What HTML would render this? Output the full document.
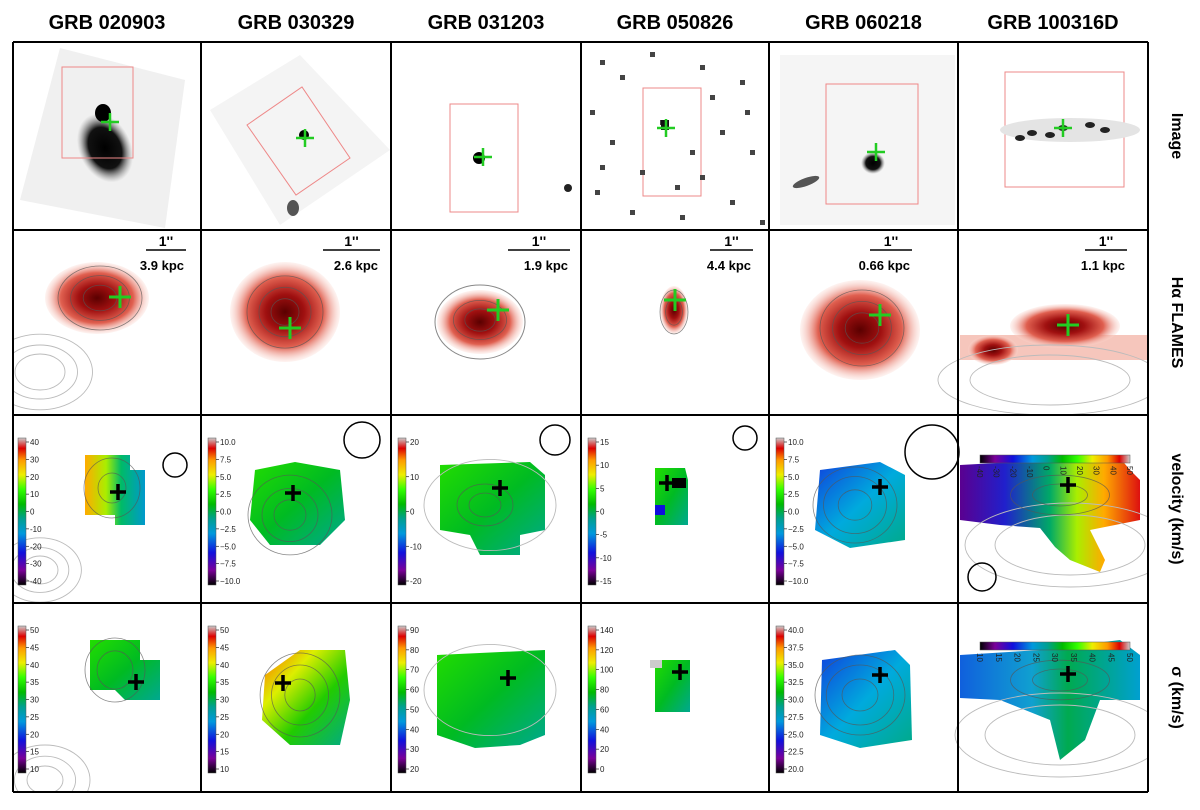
<!DOCTYPE html>
<html><head><meta charset="utf-8"><style>
body{margin:0;background:#fff}
svg{display:block;font-family:"Liberation Sans",sans-serif}
</style></head><body>
<svg id="fig" width="1200" height="810" viewBox="0 0 1200 810">
<defs>
<linearGradient id="cbv" x1="0" y1="1" x2="0" y2="0">
<stop offset="0" stop-color="#000"/><stop offset="0.1" stop-color="#7a0099"/><stop offset="0.22" stop-color="#1010dd"/><stop offset="0.35" stop-color="#0099dd"/><stop offset="0.45" stop-color="#00a090"/><stop offset="0.55" stop-color="#00bb00"/><stop offset="0.65" stop-color="#33ff00"/><stop offset="0.75" stop-color="#eeee00"/><stop offset="0.85" stop-color="#ff9900"/><stop offset="0.93" stop-color="#dd0000"/><stop offset="1" stop-color="#cccccc"/>
</linearGradient>
<linearGradient id="cbh" x1="0" y1="0" x2="1" y2="0">
<stop offset="0" stop-color="#000"/><stop offset="0.1" stop-color="#7a0099"/><stop offset="0.22" stop-color="#1010dd"/><stop offset="0.35" stop-color="#0099dd"/><stop offset="0.45" stop-color="#00a090"/><stop offset="0.55" stop-color="#00bb00"/><stop offset="0.65" stop-color="#33ff00"/><stop offset="0.75" stop-color="#eeee00"/><stop offset="0.85" stop-color="#ff9900"/><stop offset="0.93" stop-color="#dd0000"/><stop offset="1" stop-color="#cccccc"/>
</linearGradient>
<radialGradient id="red"><stop offset="0" stop-color="#5a0000"/><stop offset="0.35" stop-color="#a01010"/><stop offset="0.7" stop-color="#e06050"/><stop offset="1" stop-color="#fbd8d0" stop-opacity="0.3"/></radialGradient>
<radialGradient id="dark"><stop offset="0" stop-color="#000"/><stop offset="0.6" stop-color="#111"/><stop offset="1" stop-color="#888" stop-opacity="0"/></radialGradient>
<linearGradient id="velA" x1="0" y1="0" x2="1" y2="0"><stop offset="0" stop-color="#ffaa00"/><stop offset="0.35" stop-color="#aaee00"/><stop offset="0.6" stop-color="#00bb66"/><stop offset="1" stop-color="#0099cc"/></linearGradient>
<linearGradient id="velF" x1="0" y1="0" x2="1" y2="0"><stop offset="0" stop-color="#5a0090"/><stop offset="0.25" stop-color="#2020cc"/><stop offset="0.5" stop-color="#00aa66"/><stop offset="0.65" stop-color="#aaee00"/><stop offset="0.8" stop-color="#ffaa00"/><stop offset="1" stop-color="#dd1010"/></linearGradient>
<linearGradient id="grn" x1="0" y1="0" x2="1" y2="1"><stop offset="0" stop-color="#22dd00"/><stop offset="0.5" stop-color="#00bb22"/><stop offset="1" stop-color="#00a890"/></linearGradient>
<linearGradient id="grnY" x1="0" y1="0" x2="1" y2="1"><stop offset="0" stop-color="#ff6600"/><stop offset="0.3" stop-color="#ddee00"/><stop offset="0.6" stop-color="#22cc00"/><stop offset="1" stop-color="#00aa88"/></linearGradient>
<linearGradient id="blu" x1="0" y1="0" x2="1" y2="1"><stop offset="0" stop-color="#1040dd"/><stop offset="0.5" stop-color="#00aadd"/><stop offset="1" stop-color="#00aa88"/></linearGradient>
<linearGradient id="sigF" x1="0" y1="0" x2="1" y2="0"><stop offset="0" stop-color="#1060dd"/><stop offset="0.4" stop-color="#10a0d0"/><stop offset="0.6" stop-color="#00aa50"/><stop offset="1" stop-color="#00a0d0"/></linearGradient>
</defs>
<g id="content"></g>
</svg>
<script>
const names=["GRB 020903","GRB 030329","GRB 031203","GRB 050826","GRB 060218","GRB 100316D"];
const scaleLabels=["3.9 kpc","2.6 kpc","1.9 kpc","4.4 kpc","0.66 kpc","1.1 kpc"];
const rowLabels=["Image","Hα FLAMES","velocity (km/s)","σ (km/s)"];
const velTicks=[[40,30,20,10,0,-10,-20,-30,-40],["10.0","7.5","5.0","2.5","0.0","−2.5","−5.0","−7.5","−10.0"],[20,10,0,-10,-20],[15,10,5,0,-5,-10,-15],["10.0","7.5","5.0","2.5","0.0","−2.5","−5.0","−7.5","−10.0"],[-40,-30,-20,-10,0,10,20,30,40,50]];
const sigTicks=[[50,45,40,35,30,25,20,15,10],[50,45,40,35,30,25,20,15,10],[90,80,70,60,50,40,30,20],[140,120,100,80,60,40,20,0],["40.0","37.5","35.0","32.5","30.0","27.5","25.0","22.5","20.0"],[10,15,20,25,30,35,40,45,50]];
const colX=[13,201,391,581,769,958,1148];
const rowY=[42,230,415,603,792];
const NS="http://www.w3.org/2000/svg";
const g=document.getElementById('content');
function el(t,a,p){const e=document.createElementNS(NS,t);for(const k in a)e.setAttribute(k,a[k]);(p||g).appendChild(e);return e;}
function txt(x,y,s,a){const e=el('text',Object.assign({x:x,y:y},a));e.textContent=s;return e;}
function cross(x,y,c,s,w){const gg=el('g',{});


el('line',{x1:x-s,y1:y,x2:x+s,y2:y,stroke:c,'stroke-width':w},gg);el('line',{x1:x,y1:y-s,x2:x,y2:y+s,stroke:c,'stroke-width':w},gg);}
function contours(cx,cy,rs,rx,ry){for(const r of rs){el('ellipse',{cx:cx,cy:cy,rx:rx*r,ry:ry*r,fill:'none',stroke:'#555','stroke-width':0.8,opacity:0.7});}}
function greyc(cx,cy,rs,rx,ry){for(const r of rs){el('ellipse',{cx:cx,cy:cy,rx:rx*r,ry:ry*r,fill:'none',stroke:'#bbb','stroke-width':0.9});}}
// ROW 1 images
const imgCross=[[110,122],[305,138],[483,157],[666,128],[876,152],[1063,128]];
el('polygon',{points:'60,48 185,80 165,228 20,200',fill:'#f0f0f0'});
el('ellipse',{cx:105,cy:148,rx:26,ry:36,fill:'url(#dark)',transform:'rotate(-25 105 148)'});
el('ellipse',{cx:103,cy:113,rx:8,ry:9,fill:'#000'});
el('rect',{x:62,y:67,width:71,height:91,fill:'none',stroke:'#e88','stroke-width':1});
el('polygon',{points:'300,55 390,150 280,225 210,110',fill:'#f4f4f4'});
el('polygon',{points:'247,125 302,87 350,158 296,195',fill:'none',stroke:'#e88','stroke-width':1});
el('circle',{cx:304,cy:135,r:5,fill:'#000'});el('ellipse',{cx:293,cy:208,rx:6,ry:8,fill:'#555'});
el('rect',{x:450,y:104,width:68,height:108,fill:'none',stroke:'#e88','stroke-width':1});
el('circle',{cx:479,cy:158,r:6,fill:'#000'});el('circle',{cx:568,cy:188,r:4,fill:'#222'});
el('rect',{x:643,y:88,width:58,height:108,fill:'none',stroke:'#e88','stroke-width':1});
const specks=[[600,60],[620,75],[650,52],[700,65],[740,80],[590,110],[610,140],[720,130],[750,150],[595,190],[630,210],[680,215],[730,200],[760,220],[660,120],[690,150],[710,95],[600,165],[745,110],[675,185],[640,170],[700,175]];
specks.forEach(p=>el('rect',{x:p[0],y:p[1],width:5,height:5,fill:'#444'}));
el('rect',{x:661,y:120,width:8,height:10,fill:'#111'});
el('rect',{x:780,y:55,width:175,height:170,fill:'#f5f5f5'});
el('rect',{x:826,y:84,width:92,height:120,fill:'none',stroke:'#e88','stroke-width':1});
el('ellipse',{cx:873,cy:163,rx:12,ry:11,fill:'url(#dark)'});el('ellipse',{cx:806,cy:182,rx:14,ry:4,fill:'#555',transform:'rotate(-20 806 182)'});
el('rect',{x:1005,y:72,width:119,height:115,fill:'none',stroke:'#e88','stroke-width':1});
el('ellipse',{cx:1070,cy:130,rx:70,ry:12,fill:'#e4e4e4'});
[[1032,133],[1050,135],[1063,128],[1090,125],[1105,130],[1020,138]].forEach(p=>el('ellipse',{cx:p[0],cy:p[1],rx:5,ry:3,fill:'#222'}));
imgCross.forEach(p=>cross(p[0],p[1],'#22cc22',9,2.5));
// ROW 2 Halpha
greyc(40,372,[1,1.5,2.1],25,18);
el('ellipse',{cx:97,cy:298,rx:52,ry:36,fill:'url(#red)'});contours(100,298,[0.4,0.7,1],42,32);
el('ellipse',{cx:285,cy:312,rx:55,ry:50,fill:'url(#red)'});contours(285,312,[0.35,0.65,0.95],40,38);
el('ellipse',{cx:480,cy:322,rx:43,ry:32,fill:'url(#red)'});el('ellipse',{cx:480,cy:322,rx:45,ry:37,fill:'none',stroke:'#888','stroke-width':1});contours(480,320,[0.4,0.7],38,28);
el('ellipse',{cx:674,cy:310,rx:14,ry:24,fill:'url(#red)'});contours(674,312,[0.6,1],14,22);
el('ellipse',{cx:860,cy:330,rx:60,ry:50,fill:'url(#red)'});contours(862,328,[0.4,0.7,1],42,38);
el('rect',{x:960,y:335,width:188,height:25,fill:'#f0a090',opacity:0.6});
el('ellipse',{cx:1065,cy:326,rx:55,ry:22,fill:'url(#red)'});el('ellipse',{cx:993,cy:350,rx:25,ry:15,fill:'url(#red)'});
greyc(1050,380,[1,1.4],80,25);
const hCross=[[120,297],[290,328],[498,310],[675,300],[880,315],[1068,325]];
hCross.forEach(p=>cross(p[0],p[1],'#22cc22',11,3));
// ROW 3 velocity
greyc(40,570,[1,1.6,2.3],18,14);
el('polygon',{points:'85,455 130,455 130,470 145,470 145,525 115,525 115,515 85,515',fill:'url(#velA)'});contours(112,488,[0.5,1],28,30);
el('polygon',{points:'255,470 295,462 340,470 345,520 320,545 270,545 250,520',fill:'url(#grn)'});contours(290,515,[0.4,0.7,1.05],40,38);
el('polygon',{points:'440,465 530,462 545,475 545,530 520,535 520,555 480,555 470,535 440,530',fill:'url(#grn)'});greyc(490,505,[1.2],55,38);contours(485,505,[0.4,0.7],40,30);
el('polygon',{points:'655,468 685,468 688,480 688,525 655,525',fill:'url(#grn)'});el('rect',{x:672,y:478,width:14,height:10,fill:'#000'});el('rect',{x:655,y:505,width:10,height:10,fill:'#1010dd'});
el('polygon',{points:'820,470 880,462 905,475 905,540 850,548 815,530',fill:'url(#blu)'});contours(855,505,[0.4,0.75,1],42,38);
el('polygon',{points:'960,465 1050,460 1080,455 1120,458 1130,470 1140,480 1140,520 1090,530 1105,560 1100,572 1070,560 1055,547 1040,528 1000,525 960,520',fill:'url(#velF)'});
greyc(1070,545,[1,1.4],75,30);contours(1060,495,[0.5,0.9],55,22);
const velCross=[[118,492],[293,493],[500,488],[667,483],[880,487],[1068,485]];
velCross.forEach(p=>cross(p[0],p[1],'#000',8,3.5));
[[175,465,12],[362,440,18],[555,440,15],[745,438,12],[932,452,27],[982,577,14]].forEach(c=>el('circle',{cx:c[0],cy:c[1],r:c[2],fill:'none',stroke:'#000','stroke-width':1.5}));
// ROW 4 sigma
greyc(45,780,[1,1.7,2.5],18,14);
el('polygon',{points:'90,640 140,640 140,660 160,660 160,700 125,700 115,690 90,690',fill:'url(#grn)'});contours(115,670,[0.6,1],30,32);
el('polygon',{points:'265,675 300,650 345,650 350,700 340,745 290,745 262,720',fill:'url(#grnY)'});contours(300,695,[0.4,0.75,1.05],38,40);
el('polygon',{points:'437,655 545,650 545,735 520,745 475,748 437,735',fill:'url(#grn)'});greyc(490,690,[1.2],55,38);
el('polygon',{points:'655,660 690,660 690,712 655,712',fill:'url(#grn)'});el('rect',{x:650,y:660,width:12,height:8,fill:'#ccc'});
el('polygon',{points:'822,660 895,650 910,665 912,740 860,748 820,735',fill:'url(#blu)'});contours(860,695,[0.4,0.75,1],45,40);
el('polygon',{points:'960,655 1040,650 1120,640 1140,655 1140,700 1100,700 1085,740 1060,760 1050,720 1000,700 960,698',fill:'url(#sigF)'});
greyc(1060,735,[1,1.4],75,30);contours(1060,680,[0.5,0.9],55,22);
const sigCross=[[136,682],[283,683],[508,678],[680,672],[880,675],[1068,674]];
sigCross.forEach(p=>cross(p[0],p[1],'#000',8,3.5));
// white masks outside grid
el('rect',{x:0,y:0,width:12,height:810,fill:'#fff'});
el('rect',{x:1149,y:0,width:51,height:810,fill:'#fff'});
el('rect',{x:0,y:793,width:1200,height:17,fill:'#fff'});
el('rect',{x:0,y:0,width:1200,height:41,fill:'#fff'});
// scale bars
const sb=[[146,186],[323,380],[508,570],[710,753],[870,912],[1085,1127]];
sb.forEach((s,i)=>{el('line',{x1:s[0],y1:250,x2:s[1],y2:250,stroke:'#000','stroke-width':1.5});
txt((s[0]+s[1])/2,246,"1''",{'text-anchor':'middle','font-size':14,'font-weight':'bold'});
const t=txt(s[1]-2,270,scaleLabels[i],{'text-anchor':'end','font-size':13,'font-weight':'bold'});

});
// colorbars
function vbar(x,y0,y1,ticks,name){const b=el('rect',{x:x,y:y0,width:8,height:y1-y0,fill:'url(#cbv)',stroke:'#555','stroke-width':0.5});


const n=ticks.length;ticks.forEach((t,i)=>{const yy=y0+4+(y1-y0-8)*i/(n-1);el('line',{x1:x+8,y1:yy,x2:x+11,y2:yy,stroke:'#000','stroke-width':0.6});txt(x+12,yy+3,String(t),{'font-size':8,fill:'#222'});});}
function hbar(x0,x1,y,ticks,name){const b=el('rect',{x:x0,y:y,width:x1-x0,height:8,fill:'url(#cbh)',stroke:'#555','stroke-width':0.5});


const n=ticks.length;ticks.forEach((t,i)=>{const xx=x0+(x1-x0)*i/(n-1);txt(0,0,String(t),{'font-size':8,fill:'#222',transform:`translate(${xx-3},${y+11}) rotate(90)`});});}
const barX=[18,208,398,588,776];
for(let i=0;i<5;i++){vbar(barX[i],438,585,velTicks[i],'velocity-colorbar-'+i);vbar(barX[i],626,773,sigTicks[i],'sigma-colorbar-'+i);}
hbar(980,1130,455,velTicks[5],'velocity-colorbar-5');hbar(980,1130,642,sigTicks[5],'sigma-colorbar-5');
// grid
colX.forEach(x=>el('line',{x1:x,y1:rowY[0],x2:x,y2:rowY[4],stroke:'#000','stroke-width':2}));
rowY.forEach(y=>el('line',{x1:colX[0],y1:y,x2:colX[6],y2:y,stroke:'#000','stroke-width':2}));
// titles and row labels
names.forEach((n,i)=>{const t=txt((colX[i]+colX[i+1])/2,29,n,{'text-anchor':'middle','font-size':20,'font-weight':'bold'});

});
rowLabels.forEach((n,i)=>{const cy=(rowY[i]+rowY[i+1])/2;const t=txt(0,0,n,{'text-anchor':'middle','font-size':16,'font-weight':'bold',transform:`translate(1172,${cy}) rotate(90)`});

});
</script>
</body></html>
